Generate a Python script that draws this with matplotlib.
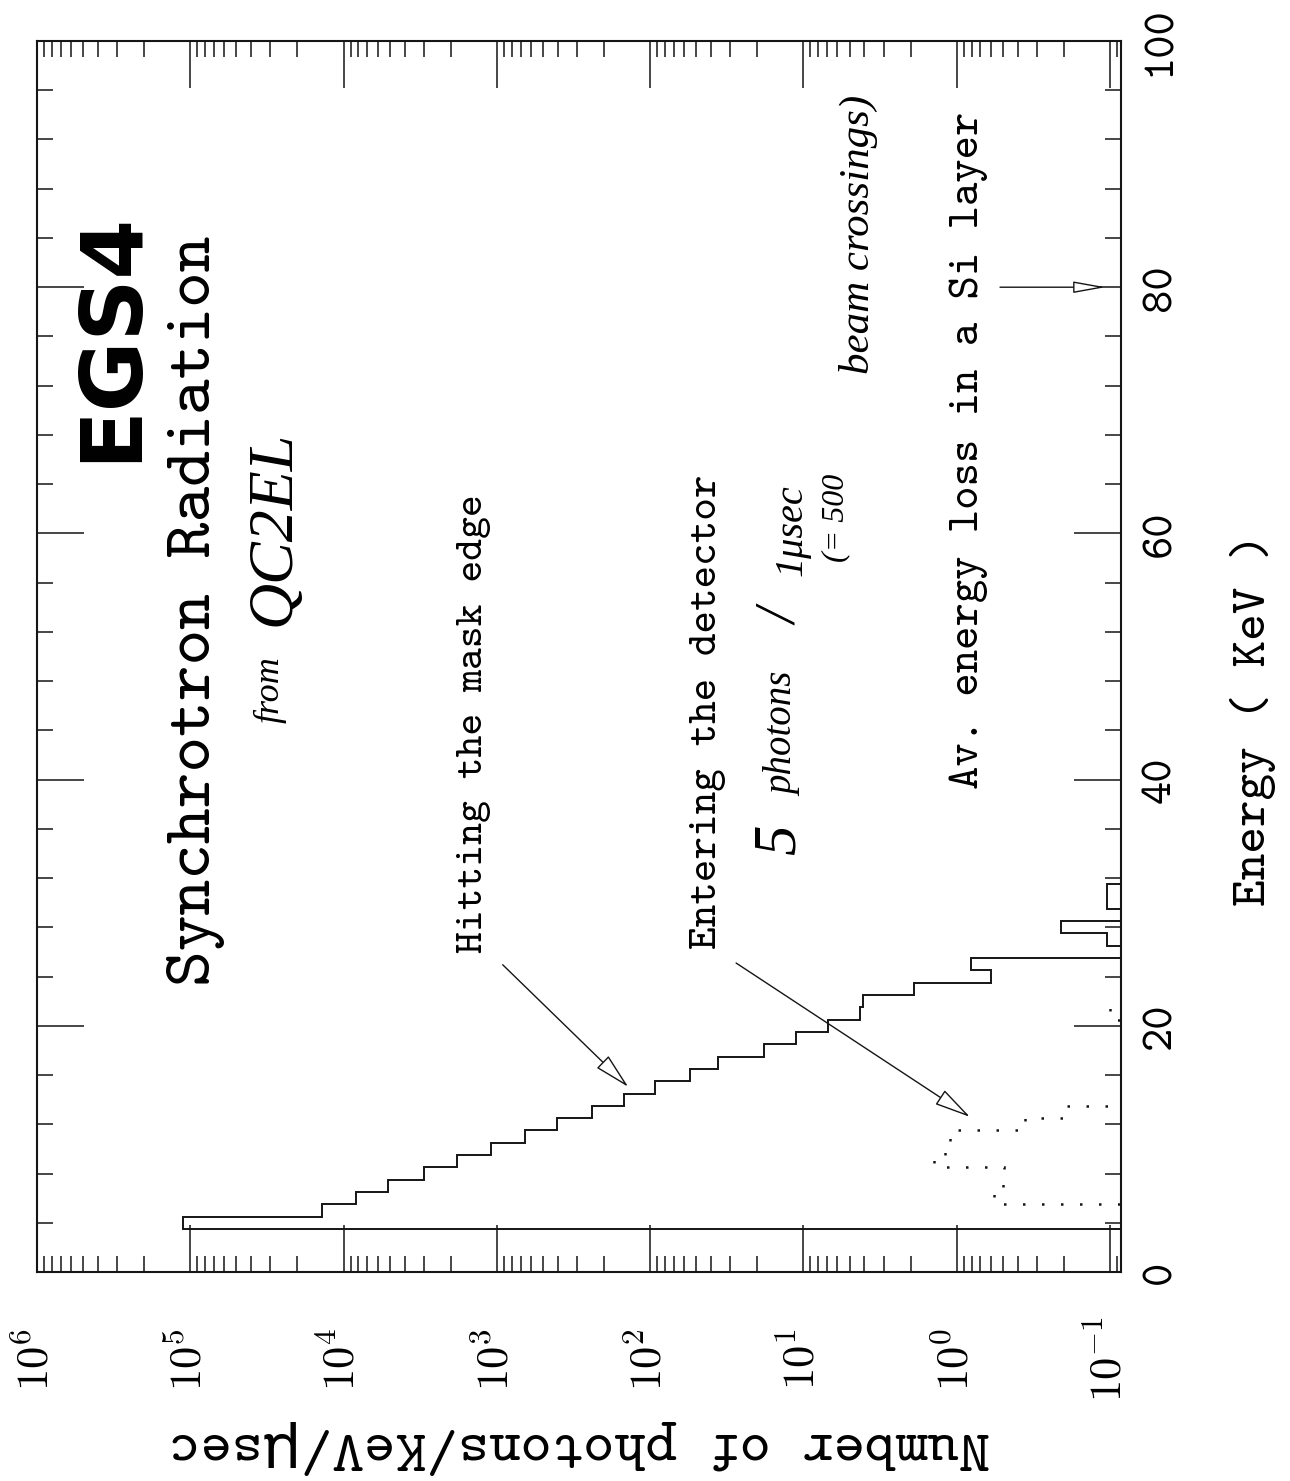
import matplotlib
matplotlib.use("Agg")
import matplotlib.pyplot as plt
import numpy as np
from matplotlib.ticker import LogLocator, MultipleLocator, FixedFormatter

# solid histogram: photons hitting the mask edge, 1 keV bins centred on integer energies
mask_energy = [3, 4, 5, 6, 7, 8, 9, 10, 11, 12, 13, 14, 15, 16, 17, 18, 19, 20,
               21, 22, 23, 24, 25, 26, 27, 28, 29, 30, 31, 32]
mask_rate = [0, 1.12e5, 1.38e4, 8.3e3, 5.1e3, 3.0e3, 1.82e3, 1.10e3, 660, 405, 240,
             148, 93, 55, 36, 18, 11.2, 6.9, 4.3, 4.1, 1.9, 0.60, 0.81, 0, 0.105,
             0.21, 0, 0.105, 0.105, 0]

# dotted histogram: photons entering the detector
det_energy = [5, 6, 7, 8, 9, 10, 11, 12, 13, 14, 15, 16, 17, 18, 19, 20, 21, 22]
det_rate = [0, 0.57, 0.50, 0.49, 1.4, 1.2, 1.1, 0.36, 0.19, 0, 0, 0, 0, 0, 0, 0, 0.1, 0]

decade_ticks = [1e-1, 1e0, 1e1, 1e2, 1e3, 1e4, 1e5, 1e6]
decade_labels = [r"$\mathtt{10}^{-\mathtt{1}}$", r"$\mathtt{10}^{\mathtt{0}}$",
                 r"$\mathtt{10}^{\mathtt{1}}$", r"$\mathtt{10}^{\mathtt{2}}$",
                 r"$\mathtt{10}^{\mathtt{3}}$", r"$\mathtt{10}^{\mathtt{4}}$",
                 r"$\mathtt{10}^{\mathtt{5}}$", r"$\mathtt{10}^{\mathtt{6}}$"]
energy_ticks = [0, 20, 40, 60, 80, 100]

W, H = 1290, 1481
INK = "#151515"
TT = ["cmtt10", "DejaVu Sans"]
HAND = ["Liberation Serif", "DejaVu Serif"]

plt.rcParams.update({
    "font.family": TT,
    "mathtext.fontset": "cm",
    "axes.unicode_minus": False,
    "axes.linewidth": 1.5,
    "axes.edgecolor": INK,
})


def fxy(x, y):
    """Pixel position in the picture -> figure fraction."""
    return x / W, 1 - y / H


def edges(centres):
    c = np.asarray(centres, dtype=float)
    return np.append(c - 0.5, c[-1] + 0.5)


def floor(v):
    v = np.asarray(v, dtype=float)
    return np.where(v > 0, v, 1e-3)


fig = plt.figure(figsize=(W / 100, H / 100), dpi=100, facecolor="white")
ax = fig.add_axes([37 / W, 1 - 1272 / H, 1084 / W, 1231 / H])

ax.stairs(floor(mask_rate), edges(mask_energy), orientation="horizontal",
          baseline=None, color=INK, lw=1.4)
ax.stairs(floor(det_rate), edges(det_energy), orientation="horizontal",
          baseline=None, color=INK, lw=1.8, linestyle=(0, (1, 6.6)))

ax.set_xscale("log")
ax.set_xlim(1e6, 0.0848)
ax.set_ylim(0, 100)

ax.set_xticks(decade_ticks)
ax.xaxis.set_major_formatter(FixedFormatter(decade_labels))
ax.xaxis.set_minor_locator(LogLocator(base=10, subs=np.arange(2, 10), numticks=100))
ax.set_yticks(energy_ticks)
ax.yaxis.set_minor_locator(MultipleLocator(4))

ax.tick_params(which="both", direction="in", top=True, bottom=True, left=True,
               right=True, width=1.1, color=INK)
ax.tick_params(which="major", length=34)
ax.tick_params(which="minor", length=11.5)
ax.tick_params(axis="x", which="minor", labelbottom=False)
ax.tick_params(axis="x", labelrotation=90, pad=63, labelsize=32)
ax.tick_params(axis="y", labelleft=False, labelright=True, labelrotation=90,
               pad=29, labelsize=32)
for lbl in ax.get_xticklabels():
    lbl.set_va("center")
    lbl.set_ha("center")
for lbl in ax.get_yticklabels():
    lbl.set_va("center")
    lbl.set_ha("center")

# axis titles (the page is the landscape plot turned a quarter turn)
fig.text(*fxy(1253, 720), "Energy ( KeV )", rotation=90, ha="center",
         va="center", fontsize=36.5)
fig.text(*fxy(579, 1447), "Number of photons/KeV/\u03bcsec", rotation=180,
         ha="center", va="center", fontsize=43)

# printed annotations
fig.text(*fxy(196, 611), "Synchrotron Radiation", rotation=90, ha="center",
         va="center", fontsize=49)
fig.text(*fxy(474, 724), "Hitting the mask edge", rotation=90, ha="center",
         va="center", fontsize=30)
fig.text(*fxy(708, 712), "Entering the detector", rotation=90, ha="center",
         va="center", fontsize=31)
fig.text(*fxy(969, 450), "Av. energy loss in a Si layer", rotation=90,
         ha="center", va="center", fontsize=32)

# hand-written notes
fig.text(*fxy(112, 336), "EGS4", rotation=90, ha="center", va="center",
         fontsize=62, fontweight="bold", family="DejaVu Sans")
hand = dict(rotation=90, ha="center", va="center", style="italic", family=HAND)
fig.text(*fxy(270, 690), "from", fontsize=26, **hand)
fig.text(*fxy(274, 528), "QC2EL", fontsize=46, **hand)
fig.text(*fxy(780, 840), "5", fontsize=44, **hand)
fig.text(*fxy(784, 734), "photons", fontsize=28, **hand)
fig.text(*fxy(783, 617), "/", fontsize=40, **hand)
fig.text(*fxy(792, 530), "1\u03bcsec", fontsize=29, **hand)
fig.text(*fxy(836, 518), "(= 500", fontsize=23, **hand)
fig.text(*fxy(858, 234), "beam crossings)", fontsize=31, **hand)

head = dict(color=INK, fc="white", ec=INK, lw=1.0, shrinkA=0, shrinkB=0,
            mutation_scale=20)
ax.annotate("", xy=(139, 15.04), xytext=(916, 24.96),
            arrowprops=dict(arrowstyle="-|>,head_length=1.15,head_width=0.27", **head))
ax.annotate("", xy=(0.82, 12.6), xytext=(27.5, 25.1),
            arrowprops=dict(arrowstyle="-|>,head_length=1.15,head_width=0.27", **head))
ax.annotate("", xy=(0.107, 80), xytext=(0.522, 80),
            arrowprops=dict(arrowstyle="-|>,head_length=1.0,head_width=0.18", **head))

fig.savefig("out.png", dpi=100, facecolor="white")
